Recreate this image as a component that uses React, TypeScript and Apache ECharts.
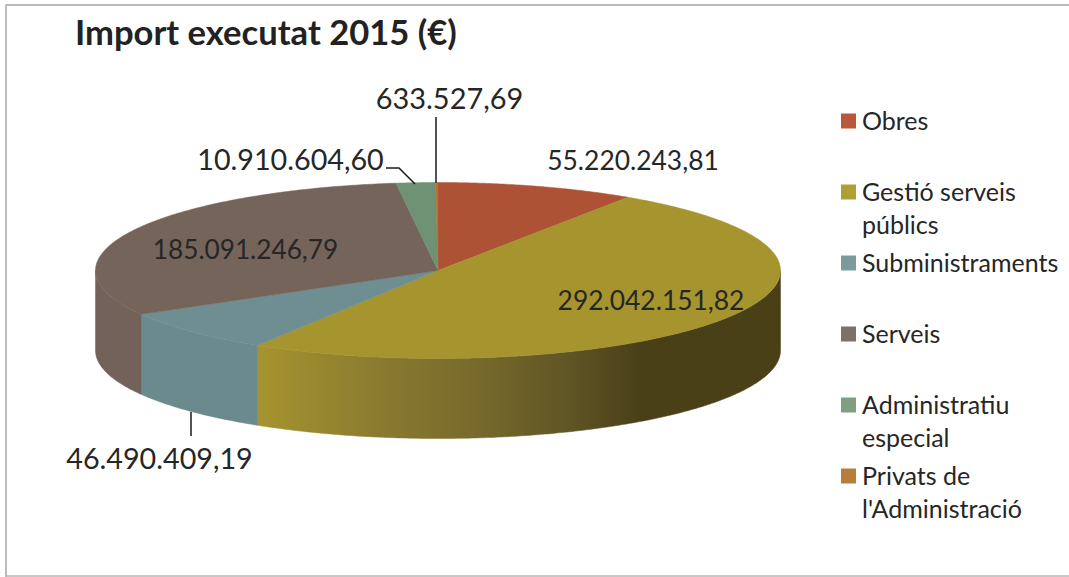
import React, { useEffect, useRef } from "react";
import * as echarts from "echarts";

const categories = [
  "Obres",
  "Gestió serveis\npúblics",
  "Subministraments",
  "Serveis",
  "Administratiu\nespecial",
  "Privats de\nl'Administració",
];
const amounts = [55220243.81, 292042151.82, 46490409.19, 185091246.79, 10910604.6, 633527.69];
const topColors = ["#ad5235", "#a6942f", "#6f8e92", "#75645a", "#6f9274", "#b07636"];
const legendColors = ["#b9573c", "#ae9e33", "#7b9a9d", "#7d7068", "#7f9f80", "#b87c3c"];
const sideColors = ["#8a4128", "#a6942f", "#6b8a8d", "#72625a", "#5f7f64", "#96642e"];
const labelCenters = [
  [633, 159.5],
  [651, 299.5],
  [159.5, 457.5],
  [245.5, 248.5],
  [290.5, 158.5],
  [449.5, 97],
];
const labelSizes = [26.4, 26.4, 28.7, 26.2, 28.7, 28.9];
const leaders: (number[][] | null)[] = [
  null,
  null,
  [[191, 412], [191, 436]],
  null,
  [[386, 168], [399, 168], [415, 184]],
  [[436, 117], [436, 183]],
];

const CX = 438;
const CY = 270.5;
const RX = 342.5;
const RY = 88;
const DEPTH = 80;
const TEXT = "#262626";
const FONT = "Lato, 'Open Sans', sans-serif";

const total = amounts.reduce((a, b) => a + b, 0);
const pt = (deg: number, dy = 0) => {
  const r = (deg * Math.PI) / 180;
  return [CX + RX * Math.sin(r), CY - RY * Math.cos(r) + dy];
};
const arc = (from: number, to: number, dy = 0) => {
  const out: number[][] = [];
  const n = Math.max(2, Math.ceil(Math.abs(to - from) * 2));
  for (let i = 0; i <= n; i++) out.push(pt(from + ((to - from) * i) / n, dy));
  return out;
};
const fmt = (v: number) => {
  const [i, d] = v.toFixed(2).split(".");
  return i.replace(/\B(?=(\d{3})+$)/g, ".") + "," + d;
};

const gestioGradient = () =>
  new echarts.graphic.LinearGradient(
    257, 0, 640, 0,
    [
      { offset: 0, color: "#a6942f" },
      { offset: 0.3, color: "#8c7c30" },
      { offset: 0.6, color: "#75682b" },
      { offset: 0.82, color: "#5f5424" },
      { offset: 1, color: "#4a4018" },
    ],
    true
  );

function renderItem(params: any, api: any) {
  const i = params.dataIndex;
  const value = api.value(0);
  let before = 0;
  for (let k = 0; k < i; k++) before += amounts[k];
  const a0 = (before / total) * 360;
  const a1 = ((before + value) / total) * 360;
  const children: any[] = [];
  const s0 = Math.max(a0, 90);
  const s1 = Math.min(a1, 270);
  if (s1 > s0) {
    const fill = i === 1 ? gestioGradient() : sideColors[i];
    children.push({
      type: "polygon",
      shape: { points: [...arc(s0, s1), ...arc(s1, s0, DEPTH)] },
      style: { fill, stroke: fill, lineWidth: 0.5 },
    });
  }
  children.push({
    type: "polygon",
    shape: { points: [[CX, CY], ...arc(a0, a1)] },
    style: { fill: topColors[i], stroke: topColors[i], lineWidth: 0.5 },
  });
  return { type: "group", children };
}

function renderLabel(params: any, api: any) {
  const i = params.dataIndex;
  const children: any[] = [];
  const leader = leaders[i];
  if (leader) {
    children.push({
      type: "polyline",
      shape: { points: leader },
      style: { fill: "none", stroke: "#1a1a1a", lineWidth: 1.5 },
    });
  }
  children.push({
    type: "text",
    x: labelCenters[i][0],
    y: labelCenters[i][1],
    style: {
      text: fmt(api.value(0)),
      fill: TEXT,
      font: `${labelSizes[i]}px ${FONT}`,
      align: "center",
      verticalAlign: "middle",
    },
  });
  return { type: "group", children };
}

const legendGraphics = categories.flatMap((name, i) => {
  const y = 121 + i * 71;
  return [
    { type: "rect", shape: { x: 841, y: y - 7.5, width: 15, height: 15 }, style: { fill: legendColors[i] } },
    {
      type: "text",
      x: 862,
      y: y - 17.5,
      style: { text: name, fill: TEXT, font: `25px ${FONT}`, lineHeight: 33, align: "left", verticalAlign: "top" },
    },
  ];
});

export default function App() {
  const ref = useRef<HTMLDivElement>(null);
  useEffect(() => {
    if (!ref.current) return;
    const chart = echarts.init(ref.current, undefined, { renderer: "svg" });
    chart.setOption({
      animation: false,
      backgroundColor: "#ffffff",
      title: {
        text: "Import executat 2015 (€)",
        left: 70,
        top: 9,
        textStyle: { fontFamily: FONT, fontWeight: "bold", fontSize: 34.6, color: "#222222" },
      },
      graphic: [
        {
          type: "polyline",
          shape: { points: [[6, 577], [6, 5], [1069, 5]] },
          style: { fill: "none", stroke: "#a6a6a6", lineWidth: 1.5 },
        },
        { type: "line", shape: { x1: 6, y1: 576, x2: 1069, y2: 576 }, style: { stroke: "#b5b5b5", lineWidth: 1.5 } },
        ...legendGraphics,
      ],
      series: [
        { type: "custom", coordinateSystem: "none", renderItem, data: amounts.map((v) => [v]), z: 2, silent: true },
        { type: "custom", coordinateSystem: "none", renderItem: renderLabel, data: amounts.map((v) => [v]), z: 3, silent: true },
      ],
    });
    return () => chart.dispose();
  }, []);
  return <div ref={ref} style={{ position: "absolute", left: 0, top: 0, width: 1069, height: 577 }} />;
}
